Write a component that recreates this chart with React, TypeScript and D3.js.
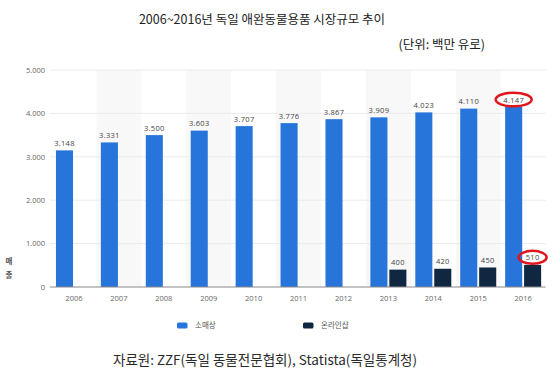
import React from "react";
import * as d3 from "d3";

const years = ["2006","2007","2008","2009","2010","2011","2012","2013","2014","2015","2016"];
const retail = [3148, 3331, 3500, 3603, 3707, 3776, 3867, 3909, 4023, 4110, 4147];
const online: (number | null)[] = [null, null, null, null, null, null, null, 400, 420, 450, 510];
const yTicks = [0, 1000, 2000, 3000, 4000, 5000];
const highlightYear = "2016";
const seriesNames = ["소매상", "온라인샵"];
const title = "2006~2016년 독일 애완동물용품 시장규모 추이";
const unitText = "(단위: 백만 유로)";
const sourceText = "자료원: ZZF(독일 동물전문협회), Statista(독일통계청)";
const yTitle = ["매", "출"];

const W = 560, H = 383;
const FONT = "'Noto Sans CJK KR', 'Noto Sans', sans-serif";
const BLUE = "#2774db";
const DARK = "#0f2740";

const fmt = d3.formatLocale({ decimal: ",", thousands: ".", grouping: [3], currency: ["", ""] }).format(",");

export default function App() {
  const x = d3.scaleBand<string>().domain(years).range([51.5, 545.6]).padding(0);
  const y = d3.scaleLinear().domain([0, 5000]).range([287, 70]);
  const x1 = d3.scaleBand<string>().domain(["r", "o"]).range([-18, 18]).paddingInner(0.1);
  const cx = (yr: string) => (x(yr) as number) + x.bandwidth() / 2;

  const hi = years.indexOf(highlightYear);
  const hiRetailX = cx(highlightYear) + (x1("r") as number) + x1.bandwidth() / 2;
  const hiOnlineX = cx(highlightYear) + (x1("o") as number) + x1.bandwidth() / 2;

  return (
    <svg width={W} height={H} style={{ position: "absolute", left: 0, top: 0, background: "#fff" }}>
      <text x={262} y={24} textAnchor="middle" fontFamily={FONT} fontSize={12.5} fill="#222">{title}</text>
      <text x={485} y={49} textAnchor="end" fontFamily={FONT} fontSize={12.5} fill="#222">{unitText}</text>

      {years.map((yr, i) =>
        i % 2 === 1 ? (
          <rect key={"s" + yr} x={x(yr)} y={y(5000)} width={x.bandwidth()} height={y(0) - y(5000)} fill="#f8f8f8" />
        ) : null
      )}

      {yTicks.map((t) => (
        <g key={"t" + t}>
          {t > 0 && <line x1={50} x2={545.6} y1={y(t)} y2={y(t)} stroke="#ebebeb" strokeWidth={1} />}
          <text x={45} y={y(t) + 2.8} textAnchor="end" fontFamily="'Open Sans', sans-serif" fontSize={7.5} fill="#666">{fmt(t)}</text>
        </g>
      ))}

      {years.map((yr, i) => {
        const c = cx(yr);
        const r = retail[i];
        const o = online[i];
        return (
          <g key={"b" + yr}>
            <rect x={c + (x1("r") as number)} y={y(r)} width={x1.bandwidth()} height={y(0) - y(r)} fill={BLUE} />
            <text x={c + (x1("r") as number) + x1.bandwidth() / 2} y={y(r) - 4.5} textAnchor="middle" fontFamily="'Open Sans', sans-serif" fontSize={7.5} fill="#444" letterSpacing={0.3}>{fmt(r)}</text>
            {o != null && (
              <>
                <rect x={c + (x1("o") as number)} y={y(o)} width={x1.bandwidth()} height={y(0) - y(o)} fill={DARK} />
                <text x={c + (x1("o") as number) + x1.bandwidth() / 2} y={y(o) - 4.5} textAnchor="middle" fontFamily="'Open Sans', sans-serif" fontSize={7.5} fill="#444" letterSpacing={0.3}>{fmt(o)}</text>
              </>
            )}
            <text x={c} y={300.5} textAnchor="middle" fontFamily="'Open Sans', sans-serif" fontSize={7.5} fill="#666">{yr}</text>
          </g>
        );
      })}

      <line x1={50} x2={545.6} y1={y(0)} y2={y(0)} stroke="#888" strokeWidth={1} />

      {hi >= 0 && (
        <>
          <ellipse cx={hiRetailX} cy={y(retail[hi]) - 7.5} rx={18} ry={6.8} fill="none" stroke="#e0161c" strokeWidth={2.5} />
          <ellipse cx={hiOnlineX} cy={y(online[hi] as number) - 7.5} rx={14} ry={6.5} fill="none" stroke="#e0161c" strokeWidth={2.5} />
        </>
      )}

      {yTitle.map((ch, i) => (
        <text key={ch} x={9} y={263.5 + i * 14.5} textAnchor="middle" fontFamily={FONT} fontSize={7.5} fontWeight={700} fill="#555">{ch}</text>
      ))}

      <rect x={177} y={322.5} width={10.5} height={6} rx={1.5} fill={BLUE} />
      <text x={195} y={328} fontFamily={FONT} fontSize={7.5} fill="#555">{seriesNames[0]}</text>
      <rect x={303} y={322.5} width={10.5} height={6} rx={1.5} fill={DARK} />
      <text x={321} y={328} fontFamily={FONT} fontSize={7.5} fill="#555">{seriesNames[1]}</text>

      <text x={113} y={365} fontFamily={FONT} fontSize={13.5} fill="#2a2a2a">{sourceText}</text>
    </svg>
  );
}
